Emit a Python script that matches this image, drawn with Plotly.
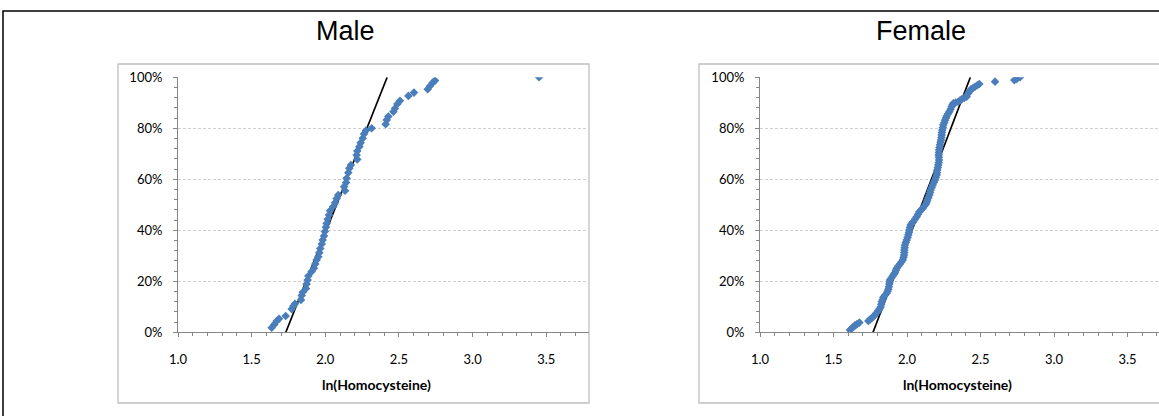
import plotly.graph_objects as go

# ---- data ----
male_x = [1.636, 1.654, 1.670, 1.686, 1.731, 1.772, 1.783, 1.794, 1.835, 1.840, 1.847,
          1.869, 1.873, 1.880, 1.885, 1.907, 1.923, 1.932, 1.941, 1.953, 1.959, 1.966,
          1.976, 1.982, 1.991, 1.997, 2.004, 2.009, 2.016, 2.025, 2.032, 2.054, 2.066,
          2.077, 2.088, 2.134, 2.127, 2.141, 2.145, 2.156, 2.163, 2.174, 2.217, 2.213,
          2.217, 2.231, 2.240, 2.254, 2.263, 2.276, 2.315, 2.410, 2.417, 2.428, 2.462,
          2.473, 2.489, 2.507, 2.564, 2.602, 2.695, 2.711, 2.729, 2.745, 3.451]
male_y = [0.018, 0.031, 0.044, 0.053, 0.064, 0.091, 0.103, 0.112, 0.127, 0.144, 0.157,
          0.172, 0.189, 0.205, 0.221, 0.238, 0.251, 0.268, 0.284, 0.296, 0.312, 0.329,
          0.346, 0.362, 0.378, 0.395, 0.412, 0.427, 0.443, 0.460, 0.477, 0.493, 0.508,
          0.525, 0.538, 0.555, 0.571, 0.587, 0.604, 0.626, 0.643, 0.656, 0.678, 0.695,
          0.711, 0.728, 0.743, 0.761, 0.778, 0.791, 0.800, 0.816, 0.833, 0.846, 0.865,
          0.878, 0.895, 0.908, 0.927, 0.940, 0.953, 0.966, 0.979, 0.987, 1.000]

female_x = [1.612, 1.624, 1.635, 1.646, 1.658, 1.676, 1.737, 1.748, 1.760, 1.771, 1.782,
            1.794, 1.805, 1.814, 1.821, 1.825, 1.828, 1.834, 1.839, 1.850, 1.862, 1.868,
            1.873, 1.877, 1.880, 1.882, 1.884, 1.894, 1.903, 1.911, 1.918, 1.925, 1.930,
            1.941, 1.952, 1.962, 1.971, 1.977, 1.980, 1.981, 1.982, 1.984, 1.986, 1.992,
            1.998, 2.004, 2.009, 2.013, 2.016, 2.020, 2.025, 2.034, 2.043, 2.055, 2.066,
            2.075, 2.084, 2.096, 2.107, 2.118, 2.129, 2.134, 2.138, 2.145, 2.152, 2.157,
            2.161, 2.168, 2.175, 2.183, 2.190, 2.196, 2.202, 2.204, 2.206, 2.210, 2.213,
            2.216, 2.218, 2.217, 2.216, 2.217, 2.218, 2.221, 2.224, 2.228, 2.231, 2.234,
            2.236, 2.238, 2.240, 2.244, 2.247, 2.253, 2.259, 2.265, 2.270, 2.279, 2.288,
            2.296, 2.304, 2.310, 2.315, 2.332, 2.349, 2.360, 2.372, 2.389, 2.406, 2.417,
            2.426, 2.435, 2.449, 2.463, 2.478, 2.492, 2.599, 2.730, 2.746, 2.769]
female_y = [0.009, 0.015, 0.022, 0.027, 0.031, 0.038, 0.044, 0.050, 0.055, 0.062, 0.068,
            0.077, 0.085, 0.092, 0.100, 0.110, 0.120, 0.128, 0.137, 0.145, 0.153, 0.161,
            0.169, 0.179, 0.189, 0.197, 0.205, 0.213, 0.221, 0.228, 0.234, 0.243, 0.251,
            0.260, 0.268, 0.276, 0.284, 0.294, 0.303, 0.313, 0.323, 0.332, 0.342, 0.352,
            0.362, 0.372, 0.382, 0.391, 0.401, 0.411, 0.421, 0.428, 0.434, 0.444, 0.453,
            0.463, 0.473, 0.480, 0.486, 0.495, 0.503, 0.511, 0.519, 0.528, 0.538, 0.548,
            0.558, 0.568, 0.578, 0.588, 0.597, 0.607, 0.617, 0.626, 0.636, 0.646, 0.656,
            0.666, 0.676, 0.686, 0.695, 0.705, 0.715, 0.725, 0.735, 0.745, 0.754, 0.764,
            0.774, 0.784, 0.793, 0.803, 0.813, 0.822, 0.832, 0.840, 0.848, 0.857, 0.865,
            0.875, 0.885, 0.892, 0.898, 0.901, 0.904, 0.909, 0.914, 0.919, 0.924, 0.937,
            0.945, 0.953, 0.958, 0.963, 0.969, 0.974, 0.983, 0.989, 0.993, 1.000]

male_fit_x = [1.732, 2.42]
female_fit_x = [1.769, 2.431]
fit_y = [0.0, 1.0]

x_ticks = [1.0, 1.5, 2.0, 2.5, 3.0, 3.5]
x_ticklabels = ["1.0", "1.5", "2.0", "2.5", "3.0", "3.5"]
y_ticks = [0, 0.2, 0.4, 0.6, 0.8, 1.0]
y_ticklabels = ["0%", "20%", "40%", "60%", "80%", "100%"]
titles = ["Male", "Female"]
x_title = "ln(Homocysteine)"

# ---- layout geometry (pixels) ----
W, H = 1159, 416
def px(x):
    return x / W
def py(y):
    return 1 - y / H

BLUE = "#4a7ebb"
TICKFONT = dict(family="Lato, Calibri, sans-serif", size=13, color="#000000")

fig = go.Figure()

for i, (xs, ys, fx) in enumerate([(male_x, male_y, male_fit_x), (female_x, female_y, female_fit_x)]):
    xa = "x" if i == 0 else "x2"
    ya = "y" if i == 0 else "y2"
    fig.add_trace(go.Scatter(x=fx, y=fit_y, mode="lines", xaxis=xa, yaxis=ya,
                             line=dict(color="#000000", width=1.7), showlegend=False,
                             hoverinfo="skip"))
    fig.add_trace(go.Scatter(x=xs, y=ys, mode="markers", xaxis=xa, yaxis=ya,
                             marker=dict(symbol="diamond", size=6.6, color=BLUE,
                                         line=dict(width=0)),
                             showlegend=False))

axis_common_x = dict(
    tickvals=x_ticks, ticktext=x_ticklabels, tickfont=TICKFONT,
    showline=True, linecolor="#868686", linewidth=1,
    ticks="outside", ticklen=4, tickcolor="#868686",
    minor=dict(dtick=0.1, ticks="outside", ticklen=3, tickcolor="#868686", showgrid=False),
    showgrid=False, zeroline=False, ticklabelstandoff=11, automargin=False,
)
axis_common_y = dict(
    range=[0, 1], tickvals=y_ticks, ticktext=y_ticklabels, tickfont=TICKFONT,
    showline=True, linecolor="#868686", linewidth=1,
    ticks="outside", ticklen=4, tickcolor="#868686",
    minor=dict(dtick=0.04, tick0=0, ticks="outside", ticklen=3, tickcolor="#868686", showgrid=False),
    showgrid=True, gridcolor="#d0d0d0", griddash="3px,2px", gridwidth=1,
    zeroline=False, ticklabelstandoff=8, automargin=False,
)

y_dom = [py(332.3), py(77.3)]
fig.update_layout(
    width=W, height=H, margin=dict(l=0, r=0, t=0, b=0, pad=0, autoexpand=False),
    paper_bgcolor="white", plot_bgcolor="white",
    xaxis=dict(domain=[px(178), px(589)], range=[1.0, 1.0 + (589 - 178) / 147.3],
               anchor="y", **axis_common_x),
    yaxis=dict(domain=y_dom, anchor="x", **axis_common_y),
    xaxis2=dict(domain=[px(760), 1.0], range=[1.0, 1.0 + (1159 - 760) / 147.0],
                anchor="y2", **axis_common_x),
    yaxis2=dict(domain=y_dom, anchor="x2", **axis_common_y),
    showlegend=False,
)

# panel borders
fig.add_shape(type="rect", xref="paper", yref="paper", x0=px(118), x1=px(589),
              y0=py(403), y1=py(64), line=dict(color="#bfbfbf", width=1.3), layer="below")
fig.add_shape(type="rect", xref="paper", yref="paper", x0=px(699), x1=1.05,
              y0=py(403), y1=py(64), line=dict(color="#bfbfbf", width=1.3), layer="below")
# outer black frame
fig.add_shape(type="rect", xref="paper", yref="paper", x0=px(3), x1=1.1,
              y0=-0.1, y1=py(11), line=dict(color="#000000", width=1.5), layer="below")

# titles
for cx, t in [(345, titles[0]), (921, titles[1])]:
    fig.add_annotation(text=t, x=px(cx), y=py(31), xref="paper", yref="paper",
                       showarrow=False, xanchor="center", yanchor="middle",
                       font=dict(family="Liberation Sans, Arial, sans-serif", size=27, color="#000"))
for cx in [376, 957]:
    fig.add_annotation(text="<b>" + x_title + "</b>", x=px(cx), y=py(384), xref="paper", yref="paper",
                       showarrow=False, xanchor="center", yanchor="middle",
                       font=dict(family="Lato, Calibri, sans-serif", size=14, color="#000"))

fig.write_html("out.html", config={"displayModeBar": False},
               post_script="document.body.style.margin='0px';document.body.style.overflow='hidden';")
